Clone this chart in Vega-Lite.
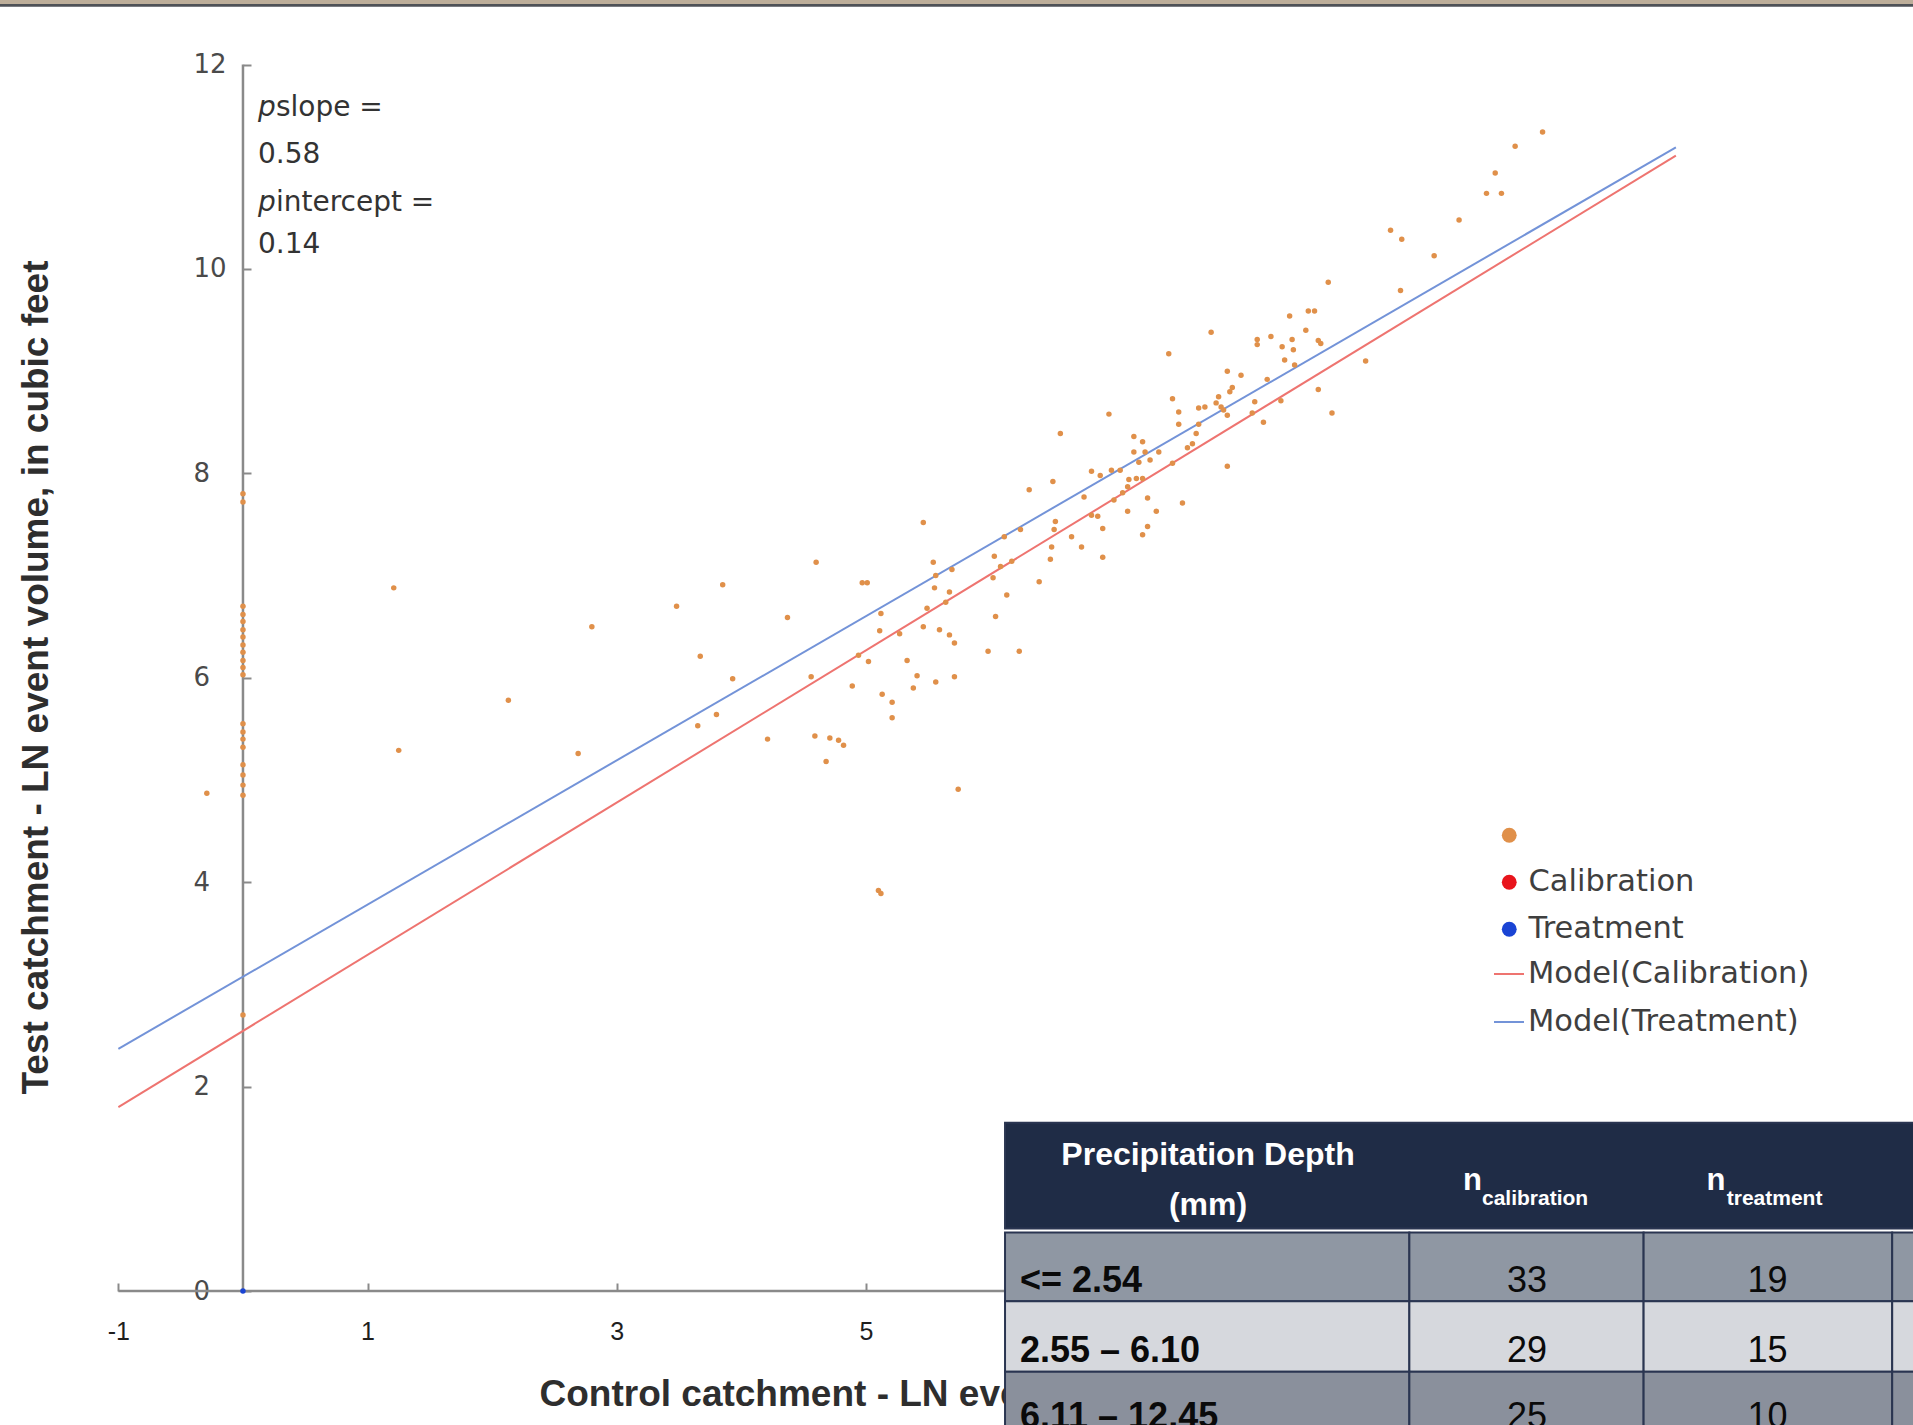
{
  "$schema": "https://vega.github.io/schema/vega-lite/v6.json",
  "width": 1913,
  "height": 1425,
  "padding": 0,
  "autosize": {"type": "none"},
  "background": "#ffffff",
  "config": {"view": {"stroke": null}, "axis": {"grid": false}},
  "datasets": {
    "events": [
      {"series":" ","x":0,"y":7.8},{"series":" ","x":0,"y":7.72},{"series":" ","x":0,"y":6.7},{"series":" ","x":0,"y":6.62},{"series":" ","x":0,"y":6.55},{"series":" ","x":0,"y":6.47},{"series":" ","x":0,"y":6.4},{"series":" ","x":0,"y":6.32},{"series":" ","x":0,"y":6.25},{"series":" ","x":0,"y":6.17},{"series":" ","x":0,"y":6.1},{"series":" ","x":0,"y":6.03},{"series":" ","x":0,"y":5.55},{"series":" ","x":0,"y":5.47},{"series":" ","x":0,"y":5.4},{"series":" ","x":0,"y":5.32},{"series":" ","x":0,"y":5.15},{"series":" ","x":0,"y":5.05},{"series":" ","x":0,"y":4.95},{"series":" ","x":0,"y":4.85},{"series":" ","x":0,"y":2.7},
      {"series":" ","x":1.21,"y":6.88},{"series":" ","x":1.25,"y":5.29},{"series":" ","x":2.13,"y":5.78},{"series":" ","x":2.8,"y":6.5},{"series":" ","x":2.69,"y":5.26},{"series":" ","x":3.48,"y":6.7},{"series":" ","x":3.85,"y":6.91},{"series":" ","x":3.67,"y":6.21},{"series":" ","x":3.93,"y":5.99},{"series":" ","x":3.8,"y":5.64},{"series":" ","x":3.65,"y":5.53},{"series":" ","x":4.21,"y":5.4},{"series":" ","x":-0.29,"y":4.87},
      {"series":" ","x":5.46,"y":7.52},{"series":" ","x":4.6,"y":7.13},{"series":" ","x":4.97,"y":6.93},{"series":" ","x":5.01,"y":6.93},{"series":" ","x":4.37,"y":6.59},{"series":" ","x":5.54,"y":7.13},{"series":" ","x":5.56,"y":7.0},{"series":" ","x":5.69,"y":7.06},{"series":" ","x":6.03,"y":7.19},{"series":" ","x":6.08,"y":7.09},{"series":" ","x":6.17,"y":7.14},{"series":" ","x":6.02,"y":6.98},{"series":" ","x":6.13,"y":6.81},{"series":" ","x":6.39,"y":6.94},{"series":" ","x":6.48,"y":7.16},{"series":" ","x":6.9,"y":7.18},{"series":" ","x":5.55,"y":6.88},{"series":" ","x":5.67,"y":6.84},{"series":" ","x":5.64,"y":6.74},{"series":" ","x":5.49,"y":6.68},{"series":" ","x":5.12,"y":6.63},{"series":" ","x":5.11,"y":6.46},{"series":" ","x":5.27,"y":6.43},{"series":" ","x":5.46,"y":6.5},{"series":" ","x":5.59,"y":6.47},{"series":" ","x":5.67,"y":6.42},{"series":" ","x":5.71,"y":6.34},{"series":" ","x":6.04,"y":6.6},{"series":" ","x":4.94,"y":6.22},{"series":" ","x":5.02,"y":6.16},{"series":" ","x":5.33,"y":6.17},{"series":" ","x":4.56,"y":6.01},{"series":" ","x":4.89,"y":5.92},{"series":" ","x":5.41,"y":6.02},{"series":" ","x":5.56,"y":5.96},{"series":" ","x":5.71,"y":6.01},{"series":" ","x":5.98,"y":6.26},{"series":" ","x":6.23,"y":6.26},{"series":" ","x":5.13,"y":5.84},{"series":" ","x":5.21,"y":5.76},{"series":" ","x":5.38,"y":5.9},{"series":" ","x":5.21,"y":5.61},{"series":" ","x":4.59,"y":5.43},{"series":" ","x":4.71,"y":5.41},{"series":" ","x":4.78,"y":5.39},{"series":" ","x":4.82,"y":5.34},{"series":" ","x":4.68,"y":5.18},{"series":" ","x":5.74,"y":4.91},{"series":" ","x":5.1,"y":3.92},{"series":" ","x":5.12,"y":3.89},
      {"series":" ","x":10.05,"y":10.94},{"series":" ","x":9.98,"y":10.74},{"series":" ","x":10.1,"y":10.74},{"series":" ","x":9.76,"y":10.48},{"series":" ","x":9.21,"y":10.38},{"series":" ","x":9.3,"y":10.29},{"series":" ","x":9.56,"y":10.13},{"series":" ","x":8.71,"y":9.87},{"series":" ","x":9.29,"y":9.79},{"series":" ","x":8.55,"y":9.59},{"series":" ","x":8.6,"y":9.59},{"series":" ","x":8.4,"y":9.54},{"series":" ","x":7.77,"y":9.38},{"series":" ","x":8.53,"y":9.4},{"series":" ","x":8.14,"y":9.31},{"series":" ","x":8.14,"y":9.26},{"series":" ","x":8.25,"y":9.34},{"series":" ","x":8.34,"y":9.24},{"series":" ","x":8.42,"y":9.31},{"series":" ","x":8.43,"y":9.21},{"series":" ","x":8.63,"y":9.3},{"series":" ","x":8.65,"y":9.27},{"series":" ","x":8.36,"y":9.11},{"series":" ","x":8.44,"y":9.06},{"series":" ","x":7.43,"y":9.17},{"series":" ","x":9.01,"y":9.1},{"series":" ","x":7.9,"y":9.0},{"series":" ","x":8.01,"y":8.96},{"series":" ","x":8.22,"y":8.92},{"series":" ","x":7.94,"y":8.84},{"series":" ","x":7.92,"y":8.8},{"series":" ","x":7.83,"y":8.75},{"series":" ","x":7.81,"y":8.69},{"series":" ","x":7.85,"y":8.65},{"series":" ","x":8.63,"y":8.82},{"series":" ","x":7.46,"y":8.73},{"series":" ","x":8.12,"y":8.7},{"series":" ","x":8.33,"y":8.71},{"series":" ","x":7.67,"y":8.64},{"series":" ","x":7.72,"y":8.65},{"series":" ","x":7.87,"y":8.62},{"series":" ","x":7.51,"y":8.6},{"series":" ","x":7.51,"y":8.48},{"series":" ","x":8.74,"y":8.59},{"series":" ","x":6.95,"y":8.58},{"series":" ","x":8.1,"y":8.59},{"series":" ","x":7.9,"y":8.57},{"series":" ","x":8.19,"y":8.5},{"series":" ","x":7.67,"y":8.48},{"series":" ","x":6.56,"y":8.39},{"series":" ","x":7.15,"y":8.36},{"series":" ","x":7.22,"y":8.31},{"series":" ","x":7.15,"y":8.21},{"series":" ","x":7.24,"y":8.21},{"series":" ","x":7.35,"y":8.21},{"series":" ","x":7.65,"y":8.39},{"series":" ","x":7.62,"y":8.29},{"series":" ","x":7.58,"y":8.25},{"series":" ","x":7.19,"y":8.11},{"series":" ","x":7.28,"y":8.13},{"series":" ","x":7.46,"y":8.1},{"series":" ","x":7.9,"y":8.07},{"series":" ","x":6.81,"y":8.02},{"series":" ","x":6.88,"y":7.98},{"series":" ","x":6.97,"y":8.03},{"series":" ","x":7.04,"y":8.03},{"series":" ","x":7.11,"y":7.94},{"series":" ","x":7.17,"y":7.95},{"series":" ","x":7.22,"y":7.95},{"series":" ","x":6.5,"y":7.92},{"series":" ","x":6.31,"y":7.84},{"series":" ","x":6.75,"y":7.77},{"series":" ","x":7.1,"y":7.87},{"series":" ","x":7.06,"y":7.81},{"series":" ","x":6.99,"y":7.74},{"series":" ","x":7.26,"y":7.76},{"series":" ","x":7.54,"y":7.71},{"series":" ","x":7.33,"y":7.63},{"series":" ","x":7.1,"y":7.63},{"series":" ","x":6.81,"y":7.59},{"series":" ","x":6.86,"y":7.58},{"series":" ","x":6.9,"y":7.46},{"series":" ","x":6.52,"y":7.53},{"series":" ","x":6.51,"y":7.45},{"series":" ","x":6.24,"y":7.45},{"series":" ","x":6.11,"y":7.38},{"series":" ","x":6.65,"y":7.38},{"series":" ","x":6.49,"y":7.28},{"series":" ","x":7.26,"y":7.48},{"series":" ","x":7.22,"y":7.4},{"series":" ","x":6.73,"y":7.28},{"series":" ","x":10.43,"y":11.34},{"series":" ","x":10.21,"y":11.2},
      {"series":"Treatment","x":0,"y":0}
    ],
    "models": [
      {"series":"Model(Calibration)","x":-1,"y":1.8},{"series":"Model(Calibration)","x":11.5,"y":11.11},
      {"series":"Model(Treatment)","x":-1,"y":2.37},{"series":"Model(Treatment)","x":11.5,"y":11.19}
    ],
    "tableCells": [
      {"kind":"header","x0":6.116,"x1":13.6,"y0":1.647,"y1":0.611},
      {"kind":"row1","x0":6.116,"x1":9.361,"y0":0.572,"y1":-0.1},
      {"kind":"row1","x0":9.361,"x1":11.241,"y0":0.572,"y1":-0.1},
      {"kind":"row1","x0":11.241,"x1":13.236,"y0":0.572,"y1":-0.1},
      {"kind":"row1","x0":13.236,"x1":13.6,"y0":0.572,"y1":-0.1},
      {"kind":"row2","x0":6.116,"x1":9.361,"y0":-0.1,"y1":-0.789},
      {"kind":"row2","x0":9.361,"x1":11.241,"y0":-0.1,"y1":-0.789},
      {"kind":"row2","x0":11.241,"x1":13.236,"y0":-0.1,"y1":-0.789},
      {"kind":"row2","x0":13.236,"x1":13.6,"y0":-0.1,"y1":-0.789},
      {"kind":"row3","x0":6.116,"x1":9.361,"y0":-0.789,"y1":-1.5},
      {"kind":"row3","x0":9.361,"x1":11.241,"y0":-0.789,"y1":-1.5},
      {"kind":"row3","x0":11.241,"x1":13.236,"y0":-0.789,"y1":-1.5},
      {"kind":"row3","x0":13.236,"x1":13.6,"y0":-0.789,"y1":-1.5}
    ],
    "tableText": [
      {"part":"head","t":"Precipitation Depth","x":7.745,"y":1.233},
      {"part":"head","t":"(mm)","x":7.745,"y":0.744},
      {"part":"n","t":"n","x":9.791,"y":0.988},
      {"part":"n","t":"n","x":11.745,"y":0.988},
      {"part":"sub","t":"calibration","x":9.944,"y":0.841},
      {"part":"sub","t":"treatment","x":11.908,"y":0.841},
      {"part":"label","t":"<= 2.54","x":6.236,"y":-0.01},
      {"part":"label","t":"2.55 – 6.10","x":6.236,"y":-0.695},
      {"part":"label","t":"6.11 – 12.45","x":6.236,"y":-1.34},
      {"part":"num","t":"33","x":10.305,"y":-0.01},
      {"part":"num","t":"19","x":12.236,"y":-0.01},
      {"part":"num","t":"29","x":10.305,"y":-0.695},
      {"part":"num","t":"15","x":12.236,"y":-0.695},
      {"part":"num","t":"25","x":10.305,"y":-1.34},
      {"part":"num","t":"10","x":12.236,"y":-1.34}
    ]
  },
  "layer": [
    {
      "data": {"values": [{}]},
      "mark": {"type": "rule", "color": "#8a8a8a", "strokeWidth": 2.5},
      "encoding": {
        "x": {"datum": 0, "type": "quantitative", "scale": {"domain": [-1.95, 13.403], "nice": false, "zero": false}},
        "y": {"datum": 0, "type": "quantitative", "scale": {"domain": [-1.311, 12.632], "nice": false, "zero": false}},
        "y2": {"datum": 12}
      }
    },
    {
      "data": {"values": [{}]},
      "mark": {"type": "rule", "color": "#8a8a8a", "strokeWidth": 2.5},
      "encoding": {
        "x": {"datum": -1, "type": "quantitative"},
        "x2": {"datum": 12.5},
        "y": {"datum": 0, "type": "quantitative"}
      }
    },
    {
      "data": {"name": "models"},
      "mark": {"type": "line", "strokeWidth": 2},
      "encoding": {
        "x": {"field": "x", "type": "quantitative"},
        "y": {"field": "y", "type": "quantitative"},
        "stroke": {
          "field": "series", "type": "nominal",
          "scale": {"domain": ["Model(Calibration)", "Model(Treatment)"], "range": ["#EE7470", "#7393D8"]},
          "legend": {"orient": "none", "legendX": 1493, "legendY": 958, "title": null, "symbolType": "stroke", "symbolSize": 900, "symbolStrokeWidth": 2, "labelFont": "DejaVu Sans", "labelFontSize": 30.5, "labelColor": "#3f3f3f", "labelOffset": 3, "rowPadding": 16, "padding": 0, "labelLimit": 500}
        }
      }
    },
    {
      "data": {"name": "events"},
      "mark": {"type": "circle", "size": 30, "opacity": 1},
      "encoding": {
        "x": {
          "field": "x", "type": "quantitative",
          "scale": {"domain": [-1.95, 13.403], "nice": false, "zero": false},
          "axis": {"orient": "bottom", "offset": -134, "domain": false, "grid": false, "values": [-1, 1, 3, 5], "labelExpr": "'' + datum.value", "tickSize": -8, "tickColor": "#8a8a8a", "tickWidth": 2, "labelFont": "Liberation Sans", "labelFontSize": 25, "labelColor": "#1e1e1e", "labelPadding": 36, "labelBaseline": "top", "labelFlush": false, "labelOverlap": false,
            "title": "Control catchment - LN event volume, in cubic feet", "titleFont": "Liberation Sans", "titleFontSize": 37, "titleFontWeight": "bold", "titleColor": "#2e2e2e", "titleAlign": "left", "titleAnchor": "start", "titleX": 539, "titleY": 114, "titleBaseline": "alphabetic"}
        },
        "y": {
          "field": "y", "type": "quantitative",
          "scale": {"domain": [-1.311, 12.632], "nice": false, "zero": false},
          "axis": {"orient": "left", "offset": -243, "domain": false, "grid": false, "values": [0, 2, 4, 6, 8, 10, 12], "labelExpr": "'' + datum.value", "tickSize": -8, "tickColor": "#8a8a8a", "tickWidth": 2, "labelFont": "DejaVu Sans", "labelFontSize": 26, "labelColor": "#4a4a4a", "labelPadding": 58, "labelAlign": "left", "labelBaseline": "middle", "labelFlush": false, "labelOverlap": false,
            "title": "Test catchment - LN event volume, in cubic feet", "titleFont": "Liberation Sans", "titleFontSize": 37, "titleFontWeight": "bold", "titleColor": "#2e2e2e", "titleAngle": -90, "titleAlign": "center", "titleX": -196, "titleY": 677, "titleBaseline": "alphabetic"}
        },
        "fill": {
          "field": "series", "type": "nominal",
          "scale": {"domain": [" ", "Calibration", "Treatment"], "range": ["#E0904A", "#E8141C", "#1A44D4"]},
          "legend": {"orient": "none", "legendX": 1494, "legendY": 820, "title": null, "symbolType": "circle", "symbolSize": 220, "symbolStrokeWidth": 0, "symbolOpacity": 1, "labelFont": "DejaVu Sans", "labelFontSize": 30.5, "labelColor": "#3f3f3f", "labelOffset": 4, "rowPadding": 16, "padding": 0, "labelLimit": 500}
        }
      }
    },
    {
      "data": {"values": [{}]},
      "mark": {"type": "text", "font": "DejaVu Sans", "fontSize": 28, "fontStyle": "italic", "align": "left", "baseline": "middle", "color": "#333333", "text": "p"},
      "encoding": {"x": {"datum": 0.12, "type": "quantitative"}, "y": {"datum": 11.575, "type": "quantitative"}}
    },
    {
      "data": {"values": [{}]},
      "mark": {"type": "text", "font": "DejaVu Sans", "fontSize": 28, "align": "left", "baseline": "middle", "dx": 18, "color": "#333333", "text": "slope ="},
      "encoding": {"x": {"datum": 0.12, "type": "quantitative"}, "y": {"datum": 11.575, "type": "quantitative"}}
    },
    {
      "data": {"values": [{}]},
      "mark": {"type": "text", "font": "DejaVu Sans", "fontSize": 28, "align": "left", "baseline": "middle", "color": "#333333", "text": "0.58"},
      "encoding": {"x": {"datum": 0.12, "type": "quantitative"}, "y": {"datum": 11.115, "type": "quantitative"}}
    },
    {
      "data": {"values": [{}]},
      "mark": {"type": "text", "font": "DejaVu Sans", "fontSize": 28, "fontStyle": "italic", "align": "left", "baseline": "middle", "color": "#333333", "text": "p"},
      "encoding": {"x": {"datum": 0.12, "type": "quantitative"}, "y": {"datum": 10.646, "type": "quantitative"}}
    },
    {
      "data": {"values": [{}]},
      "mark": {"type": "text", "font": "DejaVu Sans", "fontSize": 28, "align": "left", "baseline": "middle", "dx": 18, "color": "#333333", "text": "intercept ="},
      "encoding": {"x": {"datum": 0.12, "type": "quantitative"}, "y": {"datum": 10.646, "type": "quantitative"}}
    },
    {
      "data": {"values": [{}]},
      "mark": {"type": "text", "font": "DejaVu Sans", "fontSize": 28, "align": "left", "baseline": "middle", "color": "#333333", "text": "0.14"},
      "encoding": {"x": {"datum": 0.12, "type": "quantitative"}, "y": {"datum": 10.235, "type": "quantitative"}}
    },
    {
      "data": {"name": "tableCells"},
      "mark": {"type": "rect", "stroke": "#2A3551", "strokeWidth": 2},
      "encoding": {
        "x": {"field": "x0", "type": "quantitative"},
        "x2": {"field": "x1"},
        "y": {"field": "y0", "type": "quantitative"},
        "y2": {"field": "y1"},
        "color": {"field": "kind", "type": "nominal", "scale": {"domain": ["header", "row1", "row2", "row3"], "range": ["#1F2C46", "#8F97A3", "#D6D8DD", "#8A909C"]}, "legend": null}
      }
    },
    {
      "data": {"name": "tableText"},
      "transform": [{"filter": "datum.part == 'head'"}],
      "mark": {"type": "text", "font": "Liberation Sans", "fontSize": 32, "fontWeight": "bold", "align": "center", "baseline": "alphabetic", "color": "#ffffff"},
      "encoding": {"x": {"field": "x", "type": "quantitative"}, "y": {"field": "y", "type": "quantitative"}, "text": {"field": "t"}}
    },
    {
      "data": {"name": "tableText"},
      "transform": [{"filter": "datum.part == 'n'"}],
      "mark": {"type": "text", "font": "Liberation Sans", "fontSize": 31, "fontWeight": "bold", "align": "left", "baseline": "alphabetic", "color": "#ffffff"},
      "encoding": {"x": {"field": "x", "type": "quantitative"}, "y": {"field": "y", "type": "quantitative"}, "text": {"field": "t"}}
    },
    {
      "data": {"name": "tableText"},
      "transform": [{"filter": "datum.part == 'sub'"}],
      "mark": {"type": "text", "font": "Liberation Sans", "fontSize": 21, "fontWeight": "bold", "align": "left", "baseline": "alphabetic", "color": "#ffffff"},
      "encoding": {"x": {"field": "x", "type": "quantitative"}, "y": {"field": "y", "type": "quantitative"}, "text": {"field": "t"}}
    },
    {
      "data": {"name": "tableText"},
      "transform": [{"filter": "datum.part == 'label'"}],
      "mark": {"type": "text", "font": "Liberation Sans", "fontSize": 36, "fontWeight": "bold", "align": "left", "baseline": "alphabetic", "color": "#0a0a0a"},
      "encoding": {"x": {"field": "x", "type": "quantitative"}, "y": {"field": "y", "type": "quantitative"}, "text": {"field": "t"}}
    },
    {
      "data": {"name": "tableText"},
      "transform": [{"filter": "datum.part == 'num'"}],
      "mark": {"type": "text", "font": "Liberation Sans", "fontSize": 36, "align": "center", "baseline": "alphabetic", "color": "#0a0a0a"},
      "encoding": {"x": {"field": "x", "type": "quantitative"}, "y": {"field": "y", "type": "quantitative"}, "text": {"field": "t"}}
    },
    {
      "data": {"values": [{}]},
      "mark": {"type": "rect", "color": "#BDAE9A"},
      "encoding": {
        "x": {"datum": -1.95, "type": "quantitative"},
        "x2": {"datum": 13.403},
        "y": {"datum": 12.632, "type": "quantitative"},
        "y2": {"datum": 12.593}
      }
    },
    {
      "data": {"values": [{}]},
      "mark": {"type": "rect", "color": "#4E5157"},
      "encoding": {
        "x": {"datum": -1.95, "type": "quantitative"},
        "x2": {"datum": 13.403},
        "y": {"datum": 12.593, "type": "quantitative"},
        "y2": {"datum": 12.566}
      }
    }
  ]
}
